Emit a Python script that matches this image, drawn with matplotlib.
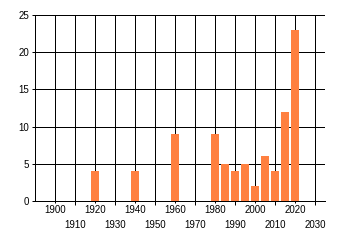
import matplotlib
matplotlib.use('Agg')
import matplotlib.pyplot as plt

# bar data (year, count)
YEARS = [1920, 1940, 1960, 1980, 1985, 1990, 1995, 2000, 2005, 2010, 2015, 2020]
COUNTS = [4, 4, 9, 9, 5, 4, 5, 2, 6, 4, 12, 23]

EVEN_TICKS = [1900, 1920, 1940, 1960, 1980, 2000, 2020]
ODD_TICKS = [1910, 1930, 1950, 1970, 1990, 2010, 2030]
Y_TICKS = [0, 5, 10, 15, 20, 25]

BAR = '#FF8040'
plt.rcParams['font.family'] = 'Liberation Sans'

fig = plt.figure(figsize=(3.4, 2.45), dpi=100)
W, H = 340, 245
ax = fig.add_axes([35 / W, (H - 201) / H, (325 - 35) / W, (201 - 15) / H])

ax.bar(YEARS, COUNTS, width=4, color=BAR, zorder=3)

ax.set_xlim(1890, 2035)
ax.set_ylim(0, 25)
ax.set_yticks(Y_TICKS)
ax.set_yticklabels([str(v) for v in Y_TICKS], fontsize=7)

ax.set_xticks(EVEN_TICKS)
ax.set_xticklabels([str(v) for v in EVEN_TICKS], fontsize=7)
ax.set_xticks(ODD_TICKS, minor=True)
ax.set_xticklabels([str(v) for v in ODD_TICKS], minor=True, fontsize=7)

ax.tick_params(axis='x', which='major', length=1.5, width=0.72, pad=1.5, colors='black')
ax.tick_params(axis='x', which='minor', length=3, width=0.72, pad=10.5, colors='black')
ax.tick_params(axis='y', length=2.2, width=0.72, pad=2, colors='black')

ax.grid(True, which='both', axis='x', color='black', lw=0.72, zorder=1)
ax.grid(True, which='major', axis='y', color='black', lw=0.72, zorder=1)

for s in ['top', 'right']:
    ax.spines[s].set_visible(False)
for s in ['left', 'bottom']:
    ax.spines[s].set_linewidth(0.72)
    ax.spines[s].set_zorder(4)

fig.savefig('out.png', dpi=100)
